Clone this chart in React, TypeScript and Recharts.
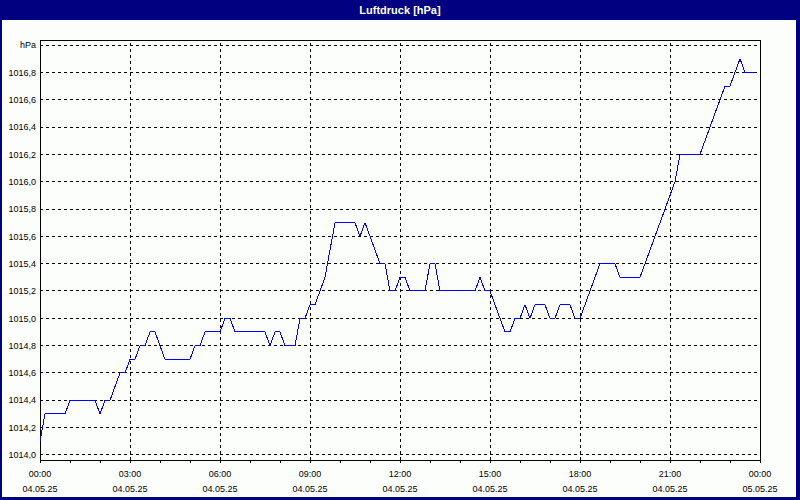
import {
    LineChart,
    Line,
    XAxis,
    YAxis,
    CartesianGrid,
    ReferenceLine,
    ReferenceArea,
} from 'recharts';

// Luftdruck in hPa, alle 10 Minuten ab 04.05.25 00:00
const pressure = [
    1014.1, 1014.3, 1014.3, 1014.3, 1014.3, 1014.3, 1014.4, 1014.4, 1014.4, 1014.4,
    1014.4, 1014.4, 1014.3, 1014.4, 1014.4, 1014.5, 1014.6, 1014.6, 1014.7, 1014.7,
    1014.8, 1014.8, 1014.9, 1014.9, 1014.8, 1014.7, 1014.7, 1014.7, 1014.7, 1014.7,
    1014.7, 1014.8, 1014.8, 1014.9, 1014.9, 1014.9, 1014.9, 1015.0, 1015.0, 1014.9,
    1014.9, 1014.9, 1014.9, 1014.9, 1014.9, 1014.9, 1014.8, 1014.9, 1014.9, 1014.8,
    1014.8, 1014.8, 1015.0, 1015.0, 1015.1, 1015.1, 1015.2, 1015.3, 1015.5, 1015.7,
    1015.7, 1015.7, 1015.7, 1015.7, 1015.6, 1015.7, 1015.6, 1015.5, 1015.4, 1015.4,
    1015.2, 1015.2, 1015.3, 1015.3, 1015.2, 1015.2, 1015.2, 1015.2, 1015.4, 1015.4,
    1015.2, 1015.2, 1015.2, 1015.2, 1015.2, 1015.2, 1015.2, 1015.2, 1015.3, 1015.2,
    1015.2, 1015.1, 1015.0, 1014.9, 1014.9, 1015.0, 1015.0, 1015.1, 1015.0, 1015.1,
    1015.1, 1015.1, 1015.0, 1015.0, 1015.1, 1015.1, 1015.1, 1015.0, 1015.0, 1015.1,
    1015.2, 1015.3, 1015.4, 1015.4, 1015.4, 1015.4, 1015.3, 1015.3, 1015.3, 1015.3,
    1015.3, 1015.4, 1015.5, 1015.6, 1015.7, 1015.8, 1015.9, 1016.0, 1016.2, 1016.2,
    1016.2, 1016.2, 1016.2, 1016.3, 1016.4, 1016.5, 1016.6, 1016.7, 1016.7, 1016.8,
    1016.9, 1016.8, 1016.8, 1016.8,
];

const yTicks = [
    1014.0, 1014.2, 1014.4, 1014.6, 1014.8, 1015.0, 1015.2, 1015.4,
    1015.6, 1015.8, 1016.0, 1016.2, 1016.4, 1016.6, 1016.8, 1017.0,
];
const Y_MIN = 1013.963;
const Y_MAX = 1017.037;

// Minuten seit Mitternacht
const hourTicks = Array.from({ length: 25 }, (_, h) => h * 60);
const gridMinutes = [180, 360, 540, 720, 900, 1080, 1260];
const majorTimes = ['00:00', '03:00', '06:00', '09:00', '12:00', '15:00', '18:00', '21:00', '00:00'];
const majorDates = ['04.05.25', '04.05.25', '04.05.25', '04.05.25', '04.05.25', '04.05.25', '04.05.25', '04.05.25', '05.05.25'];

const data = pressure.map((p, i) => ({ t: i * 10, p }));

const FONT = '"Liberation Sans", Arial, sans-serif';

function TimeTick(props: any) {
    const { x, y, payload } = props;
    const v = payload.value;
    if (v % 180 !== 0) return <g />;
    const k = v / 180;
    return (
        <g>
            <text x={x} y={y + 12} textAnchor="middle" fill="#000" fontSize={9} fontFamily={FONT}>
                {majorTimes[k]}
            </text>
            <text x={x} y={y + 27} textAnchor="middle" fill="#000" fontSize={9} fontFamily={FONT}>
                {majorDates[k]}
            </text>
        </g>
    );
}

const fmtY = (v: number) => (Math.abs(v - 1017) < 0.001 ? 'hPa' : v.toFixed(1).replace('.', ','));

export default function App() {
    return (
        <div style={{ position: 'relative', width: 800, height: 500, background: '#000080', overflow: 'hidden' }}>
            <style>{'body{margin:0} .recharts-surface{shape-rendering:crispEdges}'}</style>
            <div
                style={{
                    position: 'absolute', left: 0, top: 0, width: 800, height: 20,
                    color: '#fff', fontFamily: FONT, fontWeight: 'bold', fontSize: 11,
                    lineHeight: '20px', textAlign: 'center',
                }}
            >
                Luftdruck [hPa]
            </div>
            <div style={{ position: 'absolute', left: 2, top: 20, width: 794, height: 477, background: '#FCFEFC' }} />
            <div style={{ position: 'absolute', left: 0, top: 0 }}>
                <LineChart width={800} height={500} data={data} margin={{ top: 40, right: 40, left: 0, bottom: 0 }}>
                    <CartesianGrid vertical={false} stroke="#000" strokeDasharray="3 3" />
                    {gridMinutes.map((m) => (
                        <ReferenceLine key={m} x={m} stroke="#000" strokeDasharray="3 3" />
                    ))}
                    <XAxis
                        dataKey="t"
                        type="number"
                        domain={[0, 1440]}
                        ticks={hourTicks}
                        interval={0}
                        height={40}
                        tickSize={3}
                        tickMargin={2}
                        axisLine={false}
                        tickLine={{ stroke: '#000' }}
                        tick={<TimeTick />}
                    />
                    <YAxis
                        type="number"
                        domain={[Y_MIN, Y_MAX]}
                        ticks={yTicks}
                        interval={0}
                        width={40}
                        tickSize={2}
                        tickMargin={2}
                        axisLine={false}
                        tickLine={false}
                        tickFormatter={fmtY}
                        tick={{ fill: '#000', fontSize: 9, fontFamily: FONT }}
                    />
                    <ReferenceArea x1={0} x2={1440} y1={Y_MIN} y2={Y_MAX} fill="none" fillOpacity={0} stroke="#000" strokeOpacity={1} />
                    <Line type="linear" dataKey="p" stroke="#0000FF" strokeWidth={1} dot={false} isAnimationActive={false} />
                </LineChart>
            </div>
        </div>
    );
}
